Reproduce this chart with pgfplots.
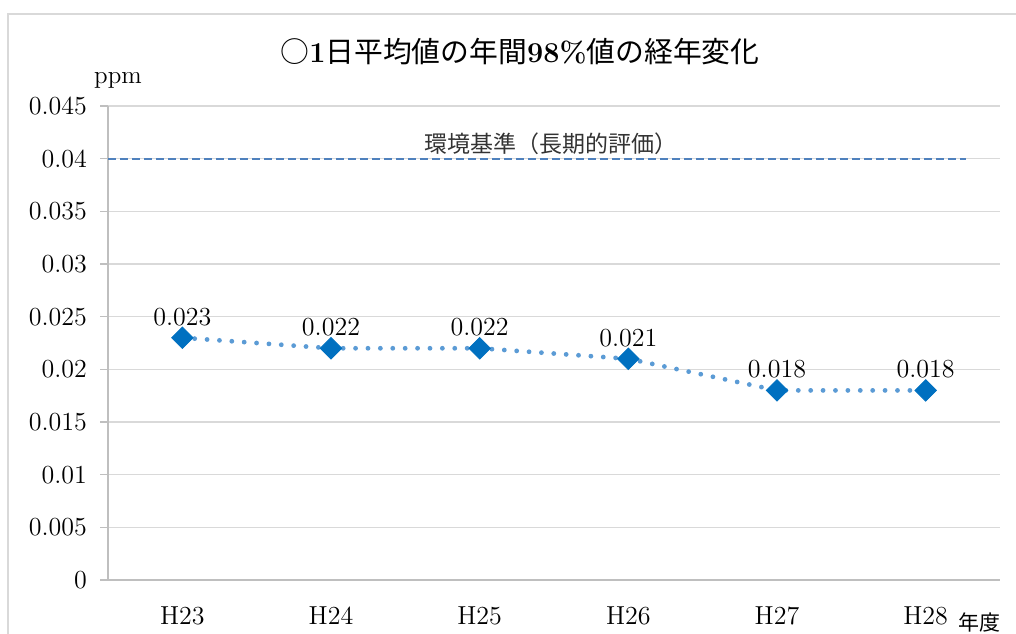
\documentclass[border=0pt]{standalone}
\usepackage{fontspec}
\usepackage{pgfplots}
\pgfplotsset{compat=1.18}
\newfontfamily\cjk{Noto Sans CJK JP}
\definecolor{gridgray}{RGB}{217,217,217}
\definecolor{axisgray}{RGB}{191,191,191}
\definecolor{stdblue}{RGB}{79,129,189}
\definecolor{dotblue}{RGB}{91,155,213}
\definecolor{markblue}{RGB}{0,112,192}

\begin{document}
\begin{tikzpicture}
\clip (0,0) rectangle (508pt,316.5pt);
% outer chart frame
\draw[gridgray, line width=1pt] (4pt,-20pt) rectangle (540pt,309.5pt);

\begin{axis}[
    at={(54pt,26.5pt)}, anchor=south west,
    scale only axis, width=446pt, height=237pt,
    xmin=-0.5, xmax=5.5,
    ymin=0, ymax=0.045,
    axis x line*=bottom, axis y line*=left,
    axis line style={-, axisgray, line width=0.8pt},
    xtick={0,1,2,3,4,5},
    xticklabels={H23,H24,H25,H26,H27,H28},
    minor xtick={-0.5,0.5,1.5,2.5,3.5,4.5,5.5},
    ytick={0,0.005,0.01,0.015,0.02,0.025,0.03,0.035,0.04,0.045},
    yticklabels={0,0.005,0.01,0.015,0.02,0.025,0.03,0.035,0.04,0.045},
    scaled y ticks=false,
    tick align=outside,
    xtick style={draw=none},
    minor x tick style={axisgray, line width=0.8pt},
    minor tick length=4pt,
    ytick style={axisgray, line width=0.8pt},
    major tick length=4pt,
    ymajorgrids,
    grid style={gridgray, line width=0.8pt},
    tick label style={font=\fontsize{13}{15}\selectfont},
    xticklabel style={yshift=-6pt},
    yticklabel style={xshift=-3pt},
    clip=false,
]
  % environmental standard
  \addplot[stdblue, line width=1pt, dash pattern=on 4pt off 2pt]
    coordinates {(-0.5,0.04)(5.27,0.04)};
  \node[text=black!80, font=\cjk\fontsize{11.5}{13}\selectfont]
    at (axis cs:2.48,0.04142) {環境基準（長期的評価）};

  % annual 98% values
  \addplot[dotblue, line width=2.4pt, line cap=round,
    dash pattern=on 0pt off 6.2pt,
    mark=square*, mark size=3.8pt,
    mark options={markblue, solid, rotate=45, line width=0.4pt},
    point meta=explicit symbolic,
    nodes near coords,
    every node near coord/.style={anchor=center, yshift=10.5pt,
      text=black, font=\fontsize{13}{15}\selectfont},
  ] coordinates {
    (0,0.023) [0.023]
    (1,0.022) [0.022]
    (2,0.022) [0.022]
    (3,0.021) [0.021]
    (4,0.018) [0.018]
    (5,0.018) [0.018]
  };
\end{axis}

\node[font=\fontsize{12.5}{14}\selectfont] at (59pt,276.5pt) {ppm};
\node[font=\cjk\fontsize{10.5}{12}\selectfont] at (489.5pt,5.5pt) {年度};
\node[font=\fontsize{14.4}{16}\selectfont] at (260pt,290.5pt)
  {{\cjk ○}\textbf{1}{\cjk 日平均値の年間}\textbf{98\%}{\cjk 値の経年変化}};
\end{tikzpicture}
\end{document}
